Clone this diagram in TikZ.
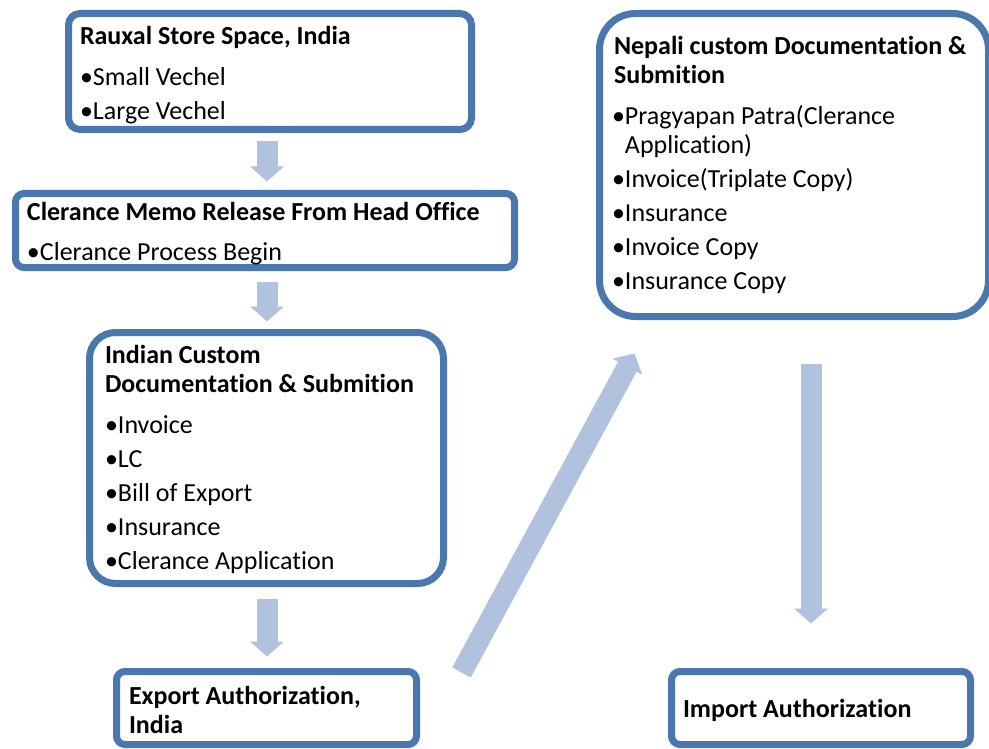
\documentclass[tikz,border=0pt]{standalone}
\usepackage{fontspec}
\setmainfont{Carlito}[Ligatures=NoCommon]
\usetikzlibrary{arrows.meta,calc,shadows}
\definecolor{boxblue}{HTML}{4A77AD}
\definecolor{arrowblue}{HTML}{B0C2DE}
\setlength{\parindent}{0pt}
\newlength\bulw
\newcommand\bitem[1]{\settowidth\bulw{•}\hangindent=\bulw\hangafter=1\relax\noindent•#1\par}
\begin{document}
\begin{tikzpicture}[x=1pt,y=-1pt,
 box/.style={draw=boxblue,line width=7pt,fill=white,align=flush left,inner ysep=0pt,
   font=\fontsize{26}{29}\selectfont,
   drop shadow={shadow xshift=1.5pt,shadow yshift=-3pt,opacity=0.22,fill=black}},
 flow/.style={draw=arrowblue,line width=21pt,-{Triangle[width=33pt,length=15pt]}}]
\useasboundingbox (0,0) rectangle (989,749);

\node[box,minimum width=403pt,minimum height=116pt,text width=380pt,inner xsep=11.5pt,rounded corners=11.5pt] (b1) at (270,71.5)
 {\noindent\rule{0pt}{25pt}{\bfseries Rauxal Store Space, India}\par\vspace{12pt}\bitem{Small Vechel}\vspace{5pt}\bitem{Large Vechel}};

\node[box,minimum width=499pt,minimum height=74pt,text width=476pt,inner xsep=11.5pt,rounded corners=8.5pt] (b2) at (265,230.5)
 {\noindent\rule{0pt}{25pt}{\bfseries Clerance Memo Release From Head Office}\par\vspace{11pt}\bitem{Clerance Process Begin}};

\node[box,minimum width=354pt,minimum height=251pt,text width=323pt,inner xsep=15.5pt,rounded corners=26pt] (b3) at (266.5,458)
 {\noindent\rule{0pt}{22pt}{\bfseries Indian Custom\\Documentation \& Submition}\par\vspace{12pt}\bitem{Invoice}\vspace{5pt}\bitem{LC}\vspace{5pt}\bitem{Bill of Export}\vspace{5pt}\bitem{Insurance}\vspace{5pt}\bitem{Clerance Application}};

\node[box,minimum width=300pt,minimum height=73pt,text width=275pt,inner xsep=12.5pt,rounded corners=8.5pt] (b4) at (266.5,708)
 {\noindent\rule{0pt}{22pt}{\bfseries Export Authorization,\\India}};

\node[box,minimum width=389pt,minimum height=303pt,text width=364pt,inner xsep=12.5pt,rounded corners=36pt] (b5) at (794,165)
 {\noindent\hspace*{2pt}{\bfseries Nepali custom Documentation \&\\\hspace*{2pt}Submition}\par\vspace{12pt}\bitem{Pragyapan Patra(Clerance\newline Application)}\vspace{5pt}\bitem{Invoice(Triplate Copy)}\vspace{5pt}\bitem{Insurance}\vspace{5pt}\bitem{Invoice Copy}\vspace{5pt}\bitem{Insurance Copy}};

\node[box,minimum width=299pt,minimum height=73pt,text width=276pt,inner xsep=11.5pt,rounded corners=8.5pt] (b6) at (821,708)
 {\noindent\rule{0pt}{24pt}{\bfseries Import Authorization}};

\draw[flow] ($(b1.south)+(-3,8.5)$) -- ($(b2.north)+(2,-8.5)$);
\draw[flow] ($(b2.south)+(2,10.5)$) -- ($(b3.north)+(0.5,-7.5)$);
\draw[flow] ($(b3.south)+(0.5,11.5)$) -- ($(b4.north)+(0.5,-11.5)$);
\draw[flow] ($(b4.north east)+(41.5,4.5)$) -- ($(b5.south west)+(38.5,33.5)$);
\draw[flow] ($(b5.south)+(17,43.5)$) -- ($(b6.north)+(-10,-44.5)$);
\end{tikzpicture}
\end{document}
